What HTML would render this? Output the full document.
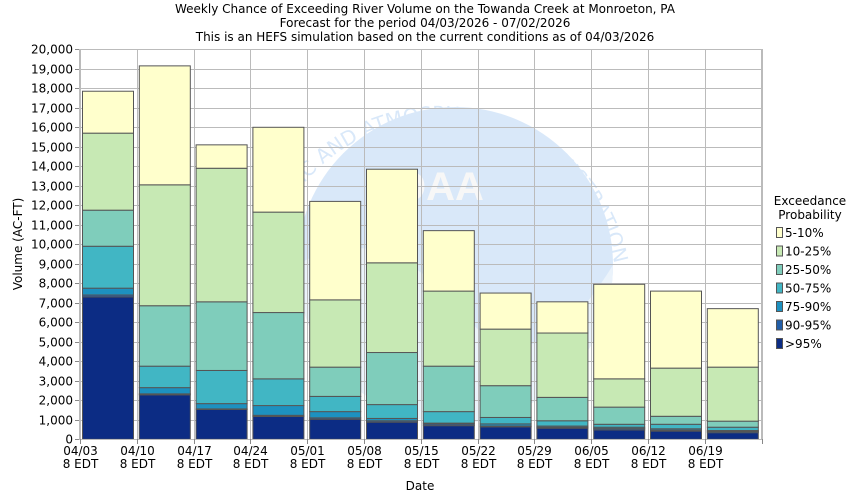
<!DOCTYPE html>
<html><head><style>body{margin:0;background:#fff}svg{display:block;font-family:"DejaVu Sans","Liberation Sans",sans-serif}</style></head><body>
<svg width="850" height="500" xmlns="http://www.w3.org/2000/svg">
<g font-size="12" text-anchor="middle" fill="#000">
<text x="425" y="13">Weekly Chance of Exceeding River Volume on the Towanda Creek at Monroeton, PA</text>
<text x="425" y="27">Forecast for the period 04/03/2026 - 07/02/2026</text>
<text x="425" y="41">This is an HEFS simulation based on the current conditions as of 04/03/2026</text>
</g>
<g opacity="0.85">
<circle cx="455" cy="265" r="158" fill="#d3e5f9"/>
<path d="M297 265 Q 380 215 460 310 Q 530 400 613 265 A158 158 0 0 1 297 265Z" fill="#e8f1fb"/>
<text x="425" y="200" font-size="40" font-weight="bold" text-anchor="middle" fill="#f6f6f6" font-family="Liberation Sans,sans-serif">NOAA</text>
<path id="arc" d="M295 195 A178 178 0 0 1 615 330" fill="none"/>
<text font-size="20" fill="#d3e5f9"><textPath href="#arc">NIC AND ATMOSPHERIC ADMINISTRATION</textPath></text>
</g>
<g id="grid" stroke="#bbb" stroke-width="1"></g>
<g id="bars" stroke="#555" stroke-width="1"></g>
<rect x="79.5" y="49.5" width="682" height="390" fill="none" stroke="#bbb"/>
<g id="axis" font-size="12" fill="#000"></g>
<text x="420" y="490" font-size="12" text-anchor="middle">Date</text>
<text transform="translate(22,244) rotate(-90)" font-size="12" text-anchor="middle">Volume (AC-FT)</text>
<g font-size="12">
<text x="810" y="205" text-anchor="middle">Exceedance</text>
<text x="810" y="219" text-anchor="middle">Probability</text>
</g>
<g id="leg" font-size="12"></g>
<script>
var ns="http://www.w3.org/2000/svg";
function el(p,t,a,txt){var e=document.createElementNS(ns,t);for(var k in a)e.setAttribute(k,a[k]);if(txt)e.textContent=txt;document.getElementById(p).appendChild(e);}
function Y(v){return 439.3-v*0.0195;}
var cols=["#0c2c84","#225ea8","#1d91c0","#41b6c4","#7fcdbb","#c7e9b4","#ffffcc"];
var names=[">95%","90-95%","75-90%","50-75%","25-50%","10-25%","5-10%"];
var d=[[7300,7400,7750,9900,11750,15700,17850],[2280,2330,2650,3750,6850,13050,19150],[1530,1560,1830,3530,7050,13900,15100],[1170,1230,1730,3100,6500,11650,16000],[1030,1100,1420,2200,3700,7150,12200],[880,950,1070,1780,4450,9050,13850],[700,780,830,1420,3750,7600,10700],[640,680,790,1120,2750,5650,7500],[570,620,680,950,2150,5450,7050],[480,550,620,770,1650,3100,7950],[420,470,540,770,1180,3650,7600],[340,400,450,620,930,3700,6700]];
var dates=["04/03","04/10","04/17","04/24","05/01","05/08","05/15","05/22","05/29","06/05","06/12","06/19"];
for(var v=0;v<=20000;v+=1000){var y=Math.round(Y(v))+0.5;el("grid","line",{x1:79,x2:762,y1:y,y2:y});el("axis","line",{x1:75,x2:79,y1:y,y2:y,stroke:"#888"});el("axis","text",{x:73,y:y+4,"text-anchor":"end"},v.toLocaleString("en-US"));}
for(var i=0;i<=12;i++){var x=Math.round(80+i*56.8)+0.5;el("grid","line",{x1:x,x2:x,y1:49,y2:439});el("axis","line",{x1:x,x2:x,y1:439,y2:444,stroke:"#888"});if(i<12){el("axis","text",{x:x,y:455,"text-anchor":"middle"},dates[i]);el("axis","text",{x:x,y:468,"text-anchor":"middle"},"8 EDT");}}
for(var i=0;i<12;i++){var x0=82.5+i*56.8;var prev=0;for(var k=0;k<7;k++){var t=d[i][k];el("bars","rect",{x:x0,y:Y(t),width:51,height:Y(prev)-Y(t),fill:cols[k]});prev=t;}}
for(var k=0;k<7;k++){var j=6-k;var y=227+k*18.5;el("leg","rect",{x:776.5,y:y+0.5,width:6,height:10,fill:cols[j],stroke:"#555"});el("leg","text",{x:785,y:y+10},names[j]);}
</script>
</svg>
</body></html>
